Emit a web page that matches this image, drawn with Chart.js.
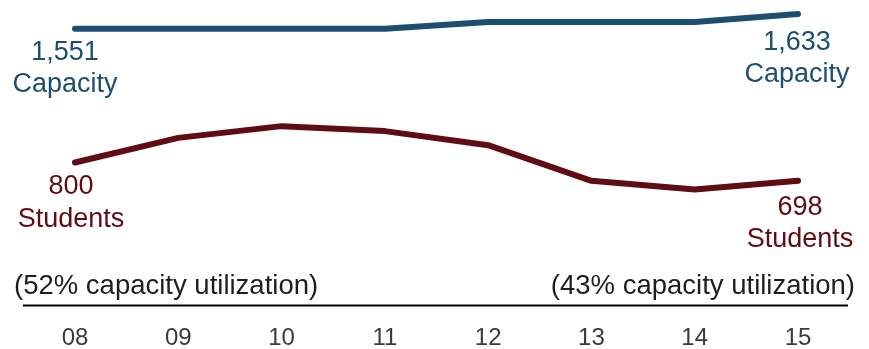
<!DOCTYPE html>
<html>
<head>
<meta charset="utf-8">
<script src="https://cdn.jsdelivr.net/npm/chart.js@4/dist/chart.umd.min.js"></script>
<style>
  html, body { margin: 0; padding: 0; background: #ffffff; }
  #wrap { width: 869px; height: 349px; position: relative; }
</style>
</head>
<body>
<div id="wrap"><canvas id="c"></canvas></div>
<script>
const years = ["08", "09", "10", "11", "12", "13", "14", "15"];
const capacity = [1551, 1551, 1551, 1551, 1589, 1589, 1589, 1633];
const students = [800, 938, 1004, 976, 897, 697, 648, 698];
const capacityStartLabel = ["1,551", "Capacity"];
const capacityEndLabel = ["1,633", "Capacity"];
const studentsStartLabel = ["800", "Students"];
const studentsEndLabel = ["698", "Students"];
const utilizationStart = "(52% capacity utilization)";
const utilizationEnd = "(43% capacity utilization)";

const BLUE = "#1c4f6f";
const RED = "#5f0c12";
const FONT = "'Liberation Sans', Arial, Helvetica, sans-serif";

const annotate = {
  id: "annotate",
  afterDatasetsDraw(chart) {
    const ctx = chart.ctx;
    ctx.save();
    const drawBlock = (lines, x, y, color, lineGap) => {
      ctx.fillStyle = color;
      ctx.textAlign = "center";
      ctx.textBaseline = "alphabetic";
      ctx.font = "27px " + FONT;
      lines.forEach((t, i) => ctx.fillText(t, x, y + i * lineGap));
    };
    const capMeta = chart.getDatasetMeta(0).data;
    const stuMeta = chart.getDatasetMeta(1).data;
    const last = years.length - 1;
    drawBlock(capacityStartLabel, capMeta[0].x - 10, capMeta[0].y + 31, BLUE, 32);
    drawBlock(capacityEndLabel, capMeta[last].x - 1, capMeta[last].y + 36, BLUE, 32);
    drawBlock(studentsStartLabel, stuMeta[0].x - 4, stuMeta[0].y + 32, RED, 33);
    drawBlock(studentsEndLabel, stuMeta[last].x + 2, stuMeta[last].y + 34, RED, 32);

    // utilization notes
    ctx.fillStyle = "#1e1e1e";
    ctx.font = "27.5px " + FONT;
    ctx.textBaseline = "alphabetic";
    ctx.textAlign = "left";
    ctx.fillText(utilizationStart, 14, 294);
    ctx.textAlign = "right";
    ctx.fillText(utilizationEnd, 855, 294);

    // baseline rule
    const yb = chart.scales.y.getPixelForValue(0);
    ctx.strokeStyle = "#000000";
    ctx.lineWidth = 2;
    ctx.beginPath();
    ctx.moveTo(23, yb + 0.5);
    ctx.lineTo(848, yb + 0.5);
    ctx.stroke();
    ctx.restore();
  }
};

new Chart(document.getElementById("c"), {
  type: "line",
  data: {
    labels: years,
    datasets: [
      { label: "Capacity", data: capacity, borderColor: BLUE, backgroundColor: BLUE,
        borderWidth: 6, pointRadius: 0, tension: 0, borderCapStyle: "round", borderJoinStyle: "round", clip: 10 },
      { label: "Students", data: students, borderColor: RED, backgroundColor: RED,
        borderWidth: 6, pointRadius: 0, tension: 0, borderCapStyle: "round", borderJoinStyle: "round", clip: 10 }
    ]
  },
  options: {
    responsive: true,
    maintainAspectRatio: false,
    animation: false,
    layout: { padding: { left: 75, right: 71, top: 0, bottom: 0 } },
    plugins: { legend: { display: false }, tooltip: { enabled: false } },
    scales: {
      x: {
        offset: false,
        grid: { display: false, drawTicks: false },
        border: { display: false },
        ticks: { color: "#3a3a3a", font: { family: FONT, size: 24 }, padding: 19, maxRotation: 0, autoSkip: false },
        afterFit(scale) { scale.height = 44; }
      },
      y: {
        display: false,
        min: 0,
        max: 1712
      }
    }
  },
  plugins: [annotate]
});
</script>
</body>
</html>
